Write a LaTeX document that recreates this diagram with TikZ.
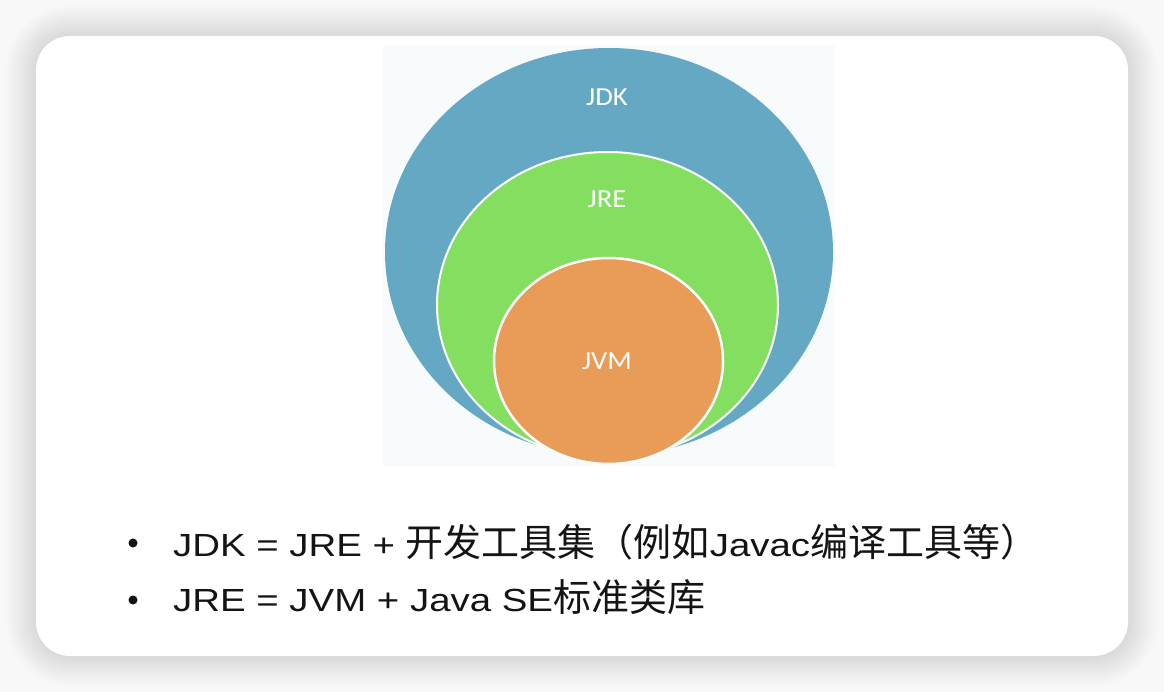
\documentclass[tikz,border=0pt]{standalone}
\usepackage{fontspec}
\setmainfont{Liberation Sans}[FakeStretch=1.2]
\newfontfamily\cjkfont{Noto Sans CJK SC}
\newfontfamily\labfont{Carlito}[FakeStretch=1.1]
\usetikzlibrary{shapes.geometric}
\definecolor{pagebg}{RGB}{248,248,248}
\definecolor{imgbg}{RGB}{247,251,251}
\definecolor{jdkblue}{RGB}{100,168,196}
\definecolor{jregreen}{RGB}{132,222,96}
\definecolor{jvmorange}{RGB}{233,155,88}
\definecolor{txt}{RGB}{20,20,20}
\newcommand\zhtext[1]{{\cjkfont\fontsize{38}{44}\selectfont #1}}
\tikzset{
  layer/.style={ellipse, inner sep=0pt, outer sep=0pt},
  circlabel/.style={anchor=base, inner sep=0pt, text=white, font=\labfont\fontsize{26}{30}\selectfont},
  bullettext/.style={anchor=base west, inner sep=0pt, text=txt, font=\fontsize{32}{38}\selectfont},
  bulletdot/.style={circle, fill=txt, inner sep=0pt, minimum size=9pt}
}
\begin{document}
\begin{tikzpicture}[x=1pt,y=-1pt]
\fill[pagebg] (0,0) rectangle (1164,692);
\useasboundingbox (0,0) rectangle (1164,692);
% soft shadow
\foreach \i [evaluate=\i as \r using 34+\i] in {1,...,30}{
  \fill[black, opacity=0.0045, rounded corners=\r pt] (36-\i,36-\i) rectangle (1128+\i,656+\i);
}
% card
\fill[white, rounded corners=34pt] (36,36) rectangle (1128,656);
% image area
\fill[imgbg] (383,45) rectangle (835,466);
\begin{scope}
\clip (383,45) rectangle (835,466);
\node[layer, fill=jdkblue, minimum width=448pt, minimum height=408pt] (jdk) at (609,252) {};
\node[layer, fill=jregreen, draw=white, line width=2pt, minimum width=341pt, minimum height=306pt] (jre) at (607.5,305) {};
\node[layer, fill=jvmorange, draw=white, line width=2.5pt, minimum width=229pt, minimum height=206pt] (jvm) at (608.5,361) {};
\end{scope}
\node[circlabel] (ljdk) at (607,106) {JDK};
\node[circlabel] (ljre) at (607,208) {JRE};
\node[circlabel] (ljvm) at (607,370) {JVM};
% bullets
\node[bulletdot] (b1) at (133,543) {};
\node[bulletdot] (b2) at (133,600) {};
\node[bullettext] (t1) at (173,556) {JDK = JRE + \zhtext{开发工具集（例如}Javac\zhtext{编译工具等）}};
\node[bullettext] (t2) at (173,611) {JRE = JVM + Java SE\zhtext{标准类库}};
\end{tikzpicture}
\end{document}
